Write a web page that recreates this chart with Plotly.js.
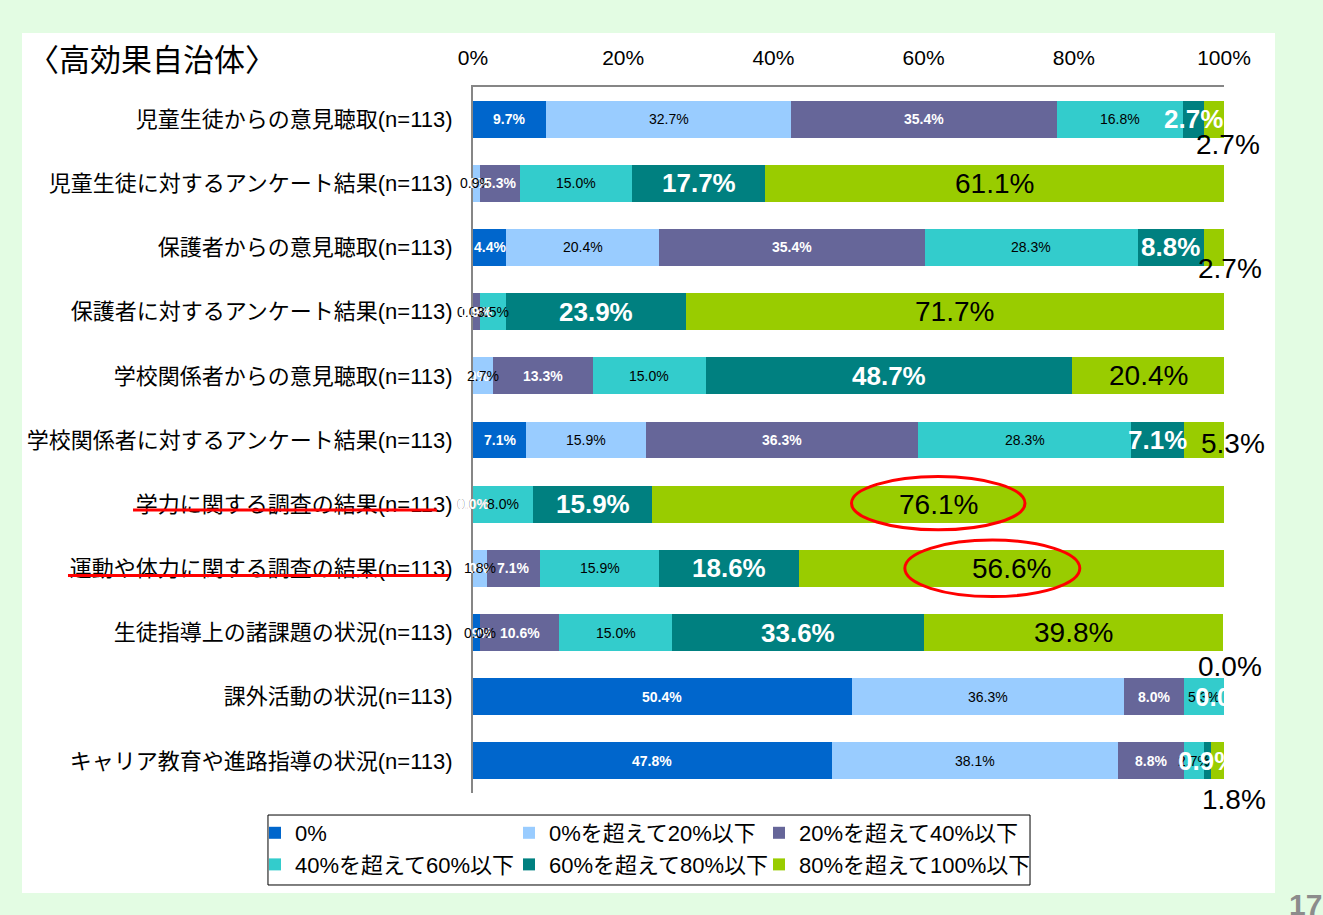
<!DOCTYPE html>
<html>
<head>
<meta charset="utf-8">
<script src="https://cdn.plot.ly/plotly-3.0.1.min.js"></script>
<style>html,body{margin:0;padding:0;background:#E3FCE3;}</style>
</head>
<body>
<div id="chart" style="width:1323px;height:915px;"></div>
<script>
// ---- data ----
const categories = [
  '児童生徒からの意見聴取(n=113)',
  '児童生徒に対するアンケート結果(n=113)',
  '保護者からの意見聴取(n=113)',
  '保護者に対するアンケート結果(n=113)',
  '学校関係者からの意見聴取(n=113)',
  '学校関係者に対するアンケート結果(n=113)',
  '学力に関する調査の結果(n=113)',
  '運動や体力に関する調査の結果(n=113)',
  '生徒指導上の諸課題の状況(n=113)',
  '課外活動の状況(n=113)',
  'キャリア教育や進路指導の状況(n=113)'
];
const seriesNames = ['0%', '0%を超えて20%以下', '20%を超えて40%以下', '40%を超えて60%以下', '60%を超えて80%以下', '80%を超えて100%以下'];
const s0 = [9.7, 0.0, 4.4, 0.0, 0.0, 7.1, 0.0, 0.0, 0.9, 50.4, 47.8];
const s1 = [32.7, 0.9, 20.4, 0.0, 2.7, 15.9, 0.0, 1.8, 0.0, 36.3, 38.1];
const s2 = [35.4, 5.3, 35.4, 0.9, 13.3, 36.3, 0.0, 7.1, 10.6, 8.0, 8.8];
const s3 = [16.8, 15.0, 28.3, 3.5, 15.0, 28.3, 8.0, 15.9, 15.0, 5.3, 2.7];
const s4 = [2.7, 17.7, 8.8, 23.9, 48.7, 7.1, 15.9, 18.6, 33.6, 0.0, 0.9];
const s5 = [2.7, 61.1, 2.7, 71.7, 20.4, 5.3, 76.1, 56.6, 39.8, 0.0, 1.8];
const tickVals = [0, 20, 40, 60, 80, 100];
const tickText = ['0%', '20%', '40%', '60%', '80%', '100%'];

// ---- style ----
const series = [s0, s1, s2, s3, s4, s5];
const colors = ['#0066CC', '#99CCFF', '#666699', '#33CCCC', '#008080', '#99CC00'];
const legendOf = ['legend', 'legend2', 'legend3', 'legend', 'legend2', 'legend3'];
const labelFonts = [
  {size: 14, color: '#ffffff', weight: 'bold'},
  {size: 14, color: '#000000', weight: 'normal'},
  {size: 14, color: '#ffffff', weight: 'bold'},
  {size: 14, color: '#000000', weight: 'normal'},
  {size: 26, color: '#ffffff', weight: 'bold'},
  {size: 28, color: '#000000', weight: 'normal'}
];
// manual label displacement (pixels) for the last series, as in the original
const lastLabelShift = {0: [14, -25], 2: [16, -21], 5: [29, -3], 9: [6, 30], 10: [16, -39]};
const LATIN = '"Liberation Sans", Arial, "Noto Sans CJK JP", sans-serif';

const traces = series.map((vals, i) => ({
  type: 'bar',
  orientation: 'h',
  name: seriesNames[i],
  legend: legendOf[i],
  legendgroup: 'g' + i,
  y: categories,
  x: vals,
  marker: {color: colors[i], line: {width: 0}},
  hoverinfo: 'skip'
}));

const annotations = [];
const cum = categories.map(() => 0);
series.forEach((vals, i) => {
  vals.forEach((v, r) => {
    const a = {
      xref: 'x', yref: 'y',
      x: cum[r] + v / 2, y: categories[r],
      text: v.toFixed(1) + '%',
      showarrow: false,
      font: Object.assign({family: LATIN}, labelFonts[i])
    };
    if (i === 5 && lastLabelShift[r]) {
      a.xshift = lastLabelShift[r][0];
      a.yshift = lastLabelShift[r][1];
    }
    annotations.push(a);
    cum[r] += v;
  });
});
annotations.push({
  xref: 'paper', yref: 'paper', x: 1.108, y: -0.1586, xanchor: 'center', yanchor: 'middle',
  text: '17', showarrow: false, font: {family: LATIN, size: 30, color: '#8c8c8c', weight: 'bold'}
});

const shapes = [
  // white panel
  {type: 'rect', xref: 'paper', yref: 'paper', x0: -0.6005, x1: 1.0679, y0: -0.1416, y1: 1.0765,
   fillcolor: '#ffffff', line: {width: 0}, layer: 'below'},
  // legend frame
  {type: 'rect', xref: 'paper', yref: 'paper', x0: -0.273, x1: 0.7417, y0: -0.1303, y1: -0.0312,
   fillcolor: '#ffffff', line: {color: '#000000', width: 1}, layer: 'below'},
  // red underlines
  {type: 'line', xref: 'paper', yref: 'paper', x0: -0.4527, x1: -0.0479, y0: 0.401, y1: 0.401,
   line: {color: '#FF0000', width: 3}},
  {type: 'line', xref: 'paper', yref: 'paper', x0: -0.5393, x1: -0.032, y0: 0.308, y1: 0.308,
   line: {color: '#FF0000', width: 3}},
  // red ellipses
  {type: 'circle', xref: 'x', yref: 'y', x0: 50.4, x1: 73.5, y0: 5.57, y1: 6.40,
   line: {color: '#FF0000', width: 3}},
  {type: 'circle', xref: 'x', yref: 'y', x0: 57.5, x1: 80.8, y0: 6.56, y1: 7.44,
   line: {color: '#FF0000', width: 3}}
];

function legendAt(px) {
  return {
    orientation: 'v',
    x: (px - 473) / 751, xanchor: 'left', y: -0.0269, yanchor: 'top',
    bgcolor: 'rgba(0,0,0,0)', borderwidth: 0,
    tracegroupgap: 8, traceorder: 'normal',
    font: {family: LATIN, size: 22, color: '#000000'}
  };
}

const layout = {
  width: 1323, height: 915,
  margin: {l: 473, r: 99, t: 87, b: 122, pad: 0},
  paper_bgcolor: '#E3FCE3',
  plot_bgcolor: '#ffffff',
  barmode: 'stack',
  bargap: 0.424,
  showlegend: true,
  title: {
    text: '〈高効果自治体〉',
    xref: 'container', yref: 'container',
    x: 0.0212, xanchor: 'left', y: 0.9344, yanchor: 'middle',
    font: {family: '"Noto Sans CJK JP", sans-serif', size: 31, color: '#000000'}
  },
  xaxis: {
    side: 'top', range: [0, 100], autorange: false, fixedrange: true,
    tickvals: tickVals, ticktext: tickText,
    showgrid: false, zeroline: false,
    showline: true, linecolor: '#868686', linewidth: 2,
    ticks: '', ticklabelstandoff: 12,
    tickfont: {family: LATIN, size: 21, color: '#000000'}
  },
  yaxis: {
    type: 'category', range: [10.5, -0.5], autorange: false, fixedrange: true,
    showgrid: false, zeroline: false,
    showline: true, linecolor: '#868686', linewidth: 2,
    ticks: '', ticklabelstandoff: 14,
    tickfont: {family: LATIN, size: 22, color: '#000000'}
  },
  legend: legendAt(255),
  legend2: legendAt(509),
  legend3: legendAt(759),
  annotations: annotations,
  shapes: shapes
};

Plotly.newPlot('chart', traces, layout, {displayModeBar: false, staticPlot: true});
</script>
</body>
</html>
